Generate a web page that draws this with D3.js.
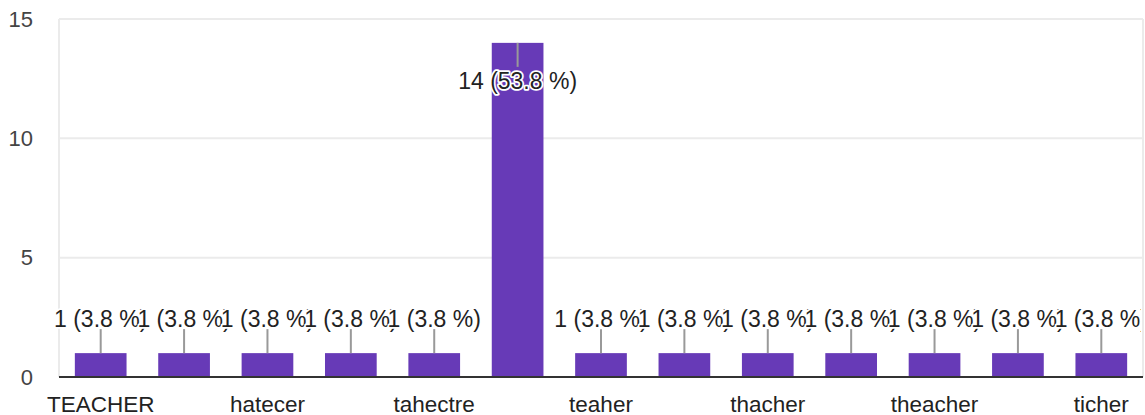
<!DOCTYPE html>
<html>
<head>
<meta charset="utf-8">
<script src="https://cdn.jsdelivr.net/npm/d3@7"></script>
<style>
  html, body { margin: 0; padding: 0; background: #fff; }
  svg { display: block; font-family: "Liberation Sans", Arial, sans-serif; }
</style>
</head>
<body>
<svg id="chart" width="1145" height="415"></svg>
<script>
// ---- data ----
const categories = ["TEACHER", "eacher", "hatecer", "taecher", "tahectre", "teacher", "teaher", "techer", "thacher", "theacer", "theacher", "thecher", "ticher"];
const counts = [1, 1, 1, 1, 1, 14, 1, 1, 1, 1, 1, 1, 1];
const yTicks = [0, 5, 10, 15];
const shownLabelEvery = 2;

const total = d3.sum(counts);
const svg = d3.select("#chart");
const W = 1145, H = 415;
const margin = { left: 59, right: 2, top: 19, bottom: 38 };
const x = d3.scaleBand().domain(categories)
  .range([margin.left, W - margin.right])
  .paddingInner(0.38).paddingOuter(0.19);
const y = d3.scaleLinear().domain([0, 15]).range([H - margin.bottom, margin.top]);

svg.append("defs").append("clipPath").attr("id", "plotclip")
  .append("rect").attr("x", 0).attr("y", 0)
  .attr("width", W - margin.right - 2).attr("height", H);

// gridlines
svg.append("g").selectAll("line").data(yTicks.filter(t => t > 0)).join("line")
  .attr("x1", margin.left).attr("x2", W - margin.right)
  .attr("y1", d => y(d)).attr("y2", d => y(d))
  .attr("stroke", "#ebebeb").attr("stroke-width", 2);
// vertical frame lines
svg.append("g").selectAll("line").data([margin.left, W - margin.right]).join("line")
  .attr("x1", d => d).attr("x2", d => d)
  .attr("y1", y(15)).attr("y2", y(0))
  .attr("stroke", "#ebebeb").attr("stroke-width", 2);

// y axis labels
const yAxis = d3.axisLeft(y).tickValues(yTicks).tickSize(0).tickPadding(26);
const gy = svg.append("g").attr("transform", `translate(${margin.left},0)`).call(yAxis);
gy.select(".domain").remove();
gy.selectAll("text").attr("font-size", 22).attr("fill", "#444")
  .attr("font-family", "'Liberation Sans', Arial, sans-serif");

// bars
svg.append("g").selectAll("rect").data(categories).join("rect")
  .attr("x", d => x(d)).attr("width", x.bandwidth())
  .attr("y", (d, i) => y(counts[i]))
  .attr("height", (d, i) => y(0) - y(counts[i]))
  .attr("fill", "#673ab7");

// baseline
svg.append("line")
  .attr("x1", margin.left).attr("x2", W - margin.right)
  .attr("y1", y(0)).attr("y2", y(0))
  .attr("stroke", "#333").attr("stroke-width", 2);

// x axis labels
const xAxis = d3.axisBottom(x).tickSize(0).tickPadding(19)
  .tickFormat((d, i) => i % shownLabelEvery === 0 ? d : "");
const gx = svg.append("g").attr("transform", `translate(0,${y(0)})`).call(xAxis);
gx.select(".domain").remove();
gx.selectAll("text").attr("font-size", 22.5).attr("fill", "#222")
  .attr("font-family", "'Liberation Sans', Arial, sans-serif");

// annotations
const ann = svg.append("g").attr("clip-path", "url(#plotclip)");
categories.forEach((c, i) => {
  const v = counts[i];
  const cx = x(c) + x.bandwidth() / 2;
  const top = y(v);
  const inside = top - margin.top < 60;
  const stemEnd = inside ? top + 24 : top - 24;
  const labelY = inside ? top + 46 : top - 26;
  ann.append("line")
    .attr("x1", cx).attr("x2", cx)
    .attr("y1", top).attr("y2", stemEnd)
    .attr("stroke", "#999").attr("stroke-width", 2);
  ann.append("text")
    .attr("x", cx).attr("y", labelY)
    .attr("text-anchor", "middle")
    .attr("font-size", 23)
    .attr("fill", "#222")
    .attr("stroke", "#fff").attr("stroke-width", 3.5)
    .attr("paint-order", "stroke")
    .attr("stroke-linejoin", "round")
    .text(`${v} (${(v / total * 100).toFixed(1)} %)`);
});
</script>
</body>
</html>
